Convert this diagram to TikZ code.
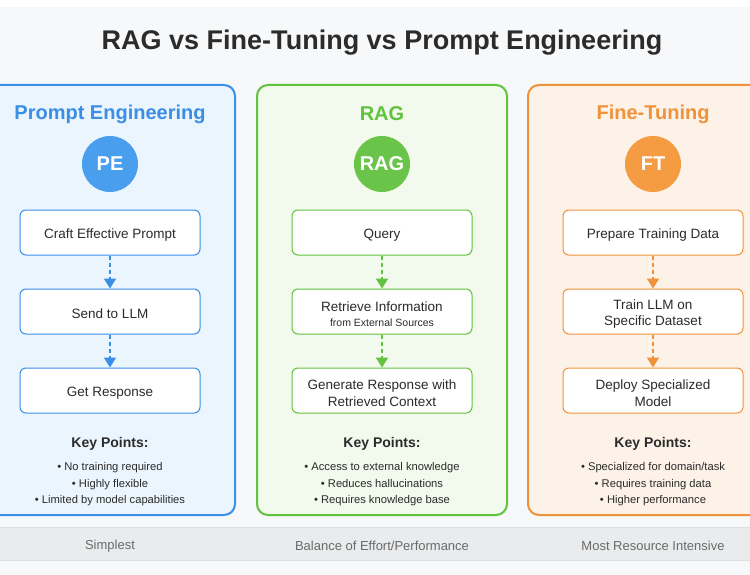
\documentclass[tikz,border=0pt]{standalone}
\usepackage{fontspec}
\setmainfont{Liberation Sans}
\usetikzlibrary{arrows.meta}
\definecolor{bgc}{HTML}{F7F8FA}
\definecolor{barc}{HTML}{E9EBED}
\definecolor{barl}{HTML}{DEE1E4}
\definecolor{txt}{HTML}{2B2B2B}
\definecolor{subt}{HTML}{6A6A6A}
\definecolor{peB}{HTML}{3A8EE6}
\definecolor{peF}{HTML}{EAF5FD}
\definecolor{peC}{HTML}{4A9EEE}
\definecolor{raB}{HTML}{62C23E}
\definecolor{raF}{HTML}{F1FAEC}
\definecolor{raC}{HTML}{6BC44A}
\definecolor{ftB}{HTML}{F0923A}
\definecolor{ftF}{HTML}{FDF2E8}
\definecolor{ftC}{HTML}{F59B42}
\tikzset{
  panel/.style={draw=#1, line width=2pt, rounded corners=11pt},
  head/.style={text=#1, yshift=-2pt, font=\fontsize{20}{24}\selectfont\bfseries},
  badge/.style={circle, fill=#1, minimum size=56pt, inner sep=0pt, text=white, font=\fontsize{20}{24}\selectfont\bfseries},
  stepbox/.style={draw=#1, fill=white, line width=1pt, rounded corners=6pt, minimum width=180pt, minimum height=45pt},
  steptext/.style={align=center, text=txt, yshift=-2.5pt, font=\fontsize{13.5}{16.5}\selectfont},
  flow/.style={draw=#1, line width=1.8pt, dash pattern=on 4pt off 3pt, -{Triangle[length=10pt,width=12pt,fill=#1]}},
  keyh/.style={text=txt, yshift=-2pt, font=\fontsize{14}{17}\selectfont\bfseries},
  bul/.style={text=txt, yshift=-1.5pt, font=\fontsize{11.2}{16.5}\selectfont, align=center},
  foot/.style={text=subt, yshift=-2pt, font=\fontsize{13}{16}\selectfont}
}
\newcommand{\stepnode}[4]{%
  \node[stepbox=#2] (#1) at (#3) {};
  \node[steptext] (#1t) at (#1.center) {#4};
}
\begin{document}
\begin{tikzpicture}[x=1pt,y=-1pt]
\useasboundingbox (0,0) rectangle (750,575);
\clip (0,0) rectangle (750,575);
\fill[white] (0,0) rectangle (750,575);
\fill[bgc] (0,7) rectangle (750,575);
\node[text=txt, yshift=-1pt, font=\fontsize{27}{31}\selectfont\bfseries] (title) at (382,42) {RAG vs Fine-Tuning vs Prompt Engineering};

% panels
\draw[panel=peB, fill=peF] (-15,85) rectangle (235,515);
\draw[panel=raB, fill=raF] (257,85) rectangle (507,515);
\draw[panel=ftB, fill=ftF] (528,85) rectangle (778,515);

% Prompt Engineering
\node[head=peB] (peh) at (110,112) {Prompt Engineering};
\node[badge=peC] (pec) at (110,164) {PE};
\stepnode{pe1}{peB}{110,232.5}{Craft Effective Prompt}
\stepnode{pe2}{peB}{110,311.5}{Send to LLM}
\stepnode{pe3}{peB}{110,390.5}{Get Response}
\draw[flow=peB] (pe1) -- (pe2);
\draw[flow=peB] (pe2) -- (pe3);
\node[keyh] (pek) at (110,442) {Key Points:};
\node[bul] (peb) at (110,483) {• No training required\\ • Highly flexible\\ • Limited by model capabilities};

% RAG
\node[head=raB] (rah) at (382,112) {RAG};
\node[badge=raC] (rac) at (382,164) {RAG};
\stepnode{ra1}{raB}{382,232.5}{Query}
\stepnode{ra2}{raB}{382,311.5}{Retrieve Information\\[-1pt]{\fontsize{10.5}{13}\selectfont from External Sources}}
\stepnode{ra3}{raB}{382,390.5}{Generate Response with\\ Retrieved Context}
\draw[flow=raB] (ra1) -- (ra2);
\draw[flow=raB] (ra2) -- (ra3);
\node[keyh] (rak) at (382,442) {Key Points:};
\node[bul] (rab) at (382,483) {• Access to external knowledge\\ • Reduces hallucinations\\ • Requires knowledge base};

% Fine-Tuning
\node[head=ftB] (fth) at (653,112) {Fine-Tuning};
\node[badge=ftC] (ftc) at (653,164) {FT};
\stepnode{ft1}{ftB}{653,232.5}{Prepare Training Data}
\stepnode{ft2}{ftB}{653,311.5}{Train LLM on\\ Specific Dataset}
\stepnode{ft3}{ftB}{653,390.5}{Deploy Specialized\\ Model}
\draw[flow=ftB] (ft1) -- (ft2);
\draw[flow=ftB] (ft2) -- (ft3);
\node[keyh] (ftk) at (653,442) {Key Points:};
\node[bul] (ftb) at (653,483) {• Specialized for domain/task\\ • Requires training data\\ • Higher performance};

% bottom bar
\fill[barc] (0,527) rectangle (750,560);
\draw[barl, line width=0.8pt] (0,527) -- (750,527);
\draw[barl, line width=0.8pt] (0,560) -- (750,560);
\node[foot] (f1) at (110,544) {Simplest};
\node[foot] (f2) at (382,544) {Balance of Effort/Performance};
\node[foot] (f3) at (653,544) {Most Resource Intensive};
\end{tikzpicture}
\end{document}
